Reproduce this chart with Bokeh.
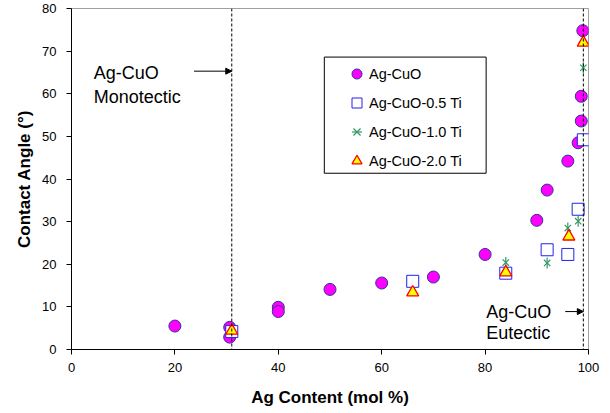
import math

from bokeh.embed import file_html
from bokeh.models import (Arrow, BoxAnnotation, Label, Legend, LegendItem,
                          NormalHead, SingleIntervalTicker, Span)
from bokeh.plotting import figure
from bokeh.resources import INLINE

# Contact angle (deg) versus Ag content (mol %)
ag_cuo_x = [20, 30.6, 30.6, 40, 40, 50, 60, 70, 80, 90, 92, 96, 98, 98.6, 98.6, 98.9]
ag_cuo_y = [5.5, 5.2, 2.9, 9.9, 8.9, 14.1, 15.6, 17.0, 22.3, 30.3, 37.4, 44.2, 48.5, 53.6, 59.4, 74.8]

ti05_x = [31, 66, 84, 92, 96, 98, 99]
ti05_y = [4.2, 16.0, 17.9, 23.4, 22.3, 32.9, 49.2]

ti10_x = [84, 92, 96, 98, 99]
ti10_y = [20.4, 20.3, 28.5, 30.1, 66.1]

ti20_x = [31, 66, 84, 96.2, 99]
ti20_y = [4.4, 13.4, 18.1, 26.5, 72.0]

series_names = ["Ag-CuO", "Ag-CuO-0.5 Ti", "Ag-CuO-1.0 Ti", "Ag-CuO-2.0 Ti"]

# Compositions of the monotectic and eutectic reference lines
monotectic_x = 31
eutectic_x = 99

FONT = "Liberation Sans"

p = figure(width=610, height=413, x_range=(0, 100), y_range=(0, 80),
           output_backend="svg", toolbar_location=None,
           min_border_left=71, min_border_right=22,
           min_border_top=8, min_border_bottom=64)

p.xgrid.visible = False
p.ygrid.visible = False
p.outline_line_color = "#a0a0a0"
p.background_fill_color = "white"
p.border_fill_color = "white"

p.xaxis.ticker = SingleIntervalTicker(interval=20)
p.yaxis.ticker = SingleIntervalTicker(interval=10)
for ax in (p.xaxis, p.yaxis):
    ax.axis_line_color = "black"
    ax.major_tick_line_color = "black"
    ax.major_tick_in = 0
    ax.major_tick_out = 5
    ax.minor_tick_line_color = None
    ax.major_label_text_font = FONT
    ax.major_label_text_font_size = "13px"
    ax.major_label_text_color = "black"
    ax.axis_label_text_font = FONT
    ax.axis_label_text_font_style = "bold"
    ax.axis_label_text_font_size = "17px"
    ax.axis_label_text_color = "black"

p.xaxis.axis_label = "Ag Content (mol %)"
p.yaxis.axis_label = "Contact Angle (°)"
p.xaxis.major_label_standoff = 8
p.xaxis.axis_label_standoff = 13
p.yaxis.major_label_standoff = 10
p.yaxis.axis_label_standoff = 5

# Reference lines with their annotations
for loc in (monotectic_x, eutectic_x):
    p.add_layout(Span(location=loc, dimension="height", line_color="black",
                      line_width=1, line_dash="3 2"))

def note(x, y, text):
    p.add_layout(Label(x=x, y=y, text=text, text_baseline="middle",
                       text_font=FONT, text_font_size="18px", text_color="black"))

note(4.3, 64.8, "Ag-CuO")
note(4.3, 59.2, "Monotectic")
note(80.2, 8.9, "Ag-CuO")
note(80.2, 3.8, "Eutectic")

def arrow(x0, x1, y):
    p.add_layout(Arrow(end=NormalHead(size=6, fill_color="black", line_color="black"),
                       x_start=x0, y_start=y, x_end=x1, y_end=y,
                       line_color="black", line_width=1))

arrow(23.7, monotectic_x, 65.3)
arrow(95.5, eutectic_x, 8.9)

# Data series
r_cuo = p.scatter(ag_cuo_x, ag_cuo_y, marker="circle", size=12,
                  fill_color="#ff00ff", line_color="#333399", line_width=1)
r_05 = p.scatter(ti05_x, ti05_y, marker="square", size=12,
                 fill_color="white", line_color="#2020f0", line_width=1)
r_10a = p.scatter(ti10_x, ti10_y, marker="x", size=9,
                  line_color="#339966", line_width=1.2)
r_10b = p.scatter(ti10_x, ti10_y, marker="dash", size=11, angle=math.pi / 2,
                  line_color="#339966", line_width=1.2)
r_20 = p.scatter(ti20_x, ti20_y, marker="triangle", size=12,
                 fill_color="#ffff00", line_color="#ff0000", line_width=1.3)

# Legend frame and entries
p.add_layout(BoxAnnotation(left=48.9, right=80.2, bottom=41.35, top=68.6,
                           fill_color="white", fill_alpha=1,
                           line_color="black", line_width=1, line_alpha=1))

legend = Legend(items=[
    LegendItem(label=series_names[0], renderers=[r_cuo]),
    LegendItem(label=series_names[1], renderers=[r_05]),
    LegendItem(label=series_names[2], renderers=[r_10a, r_10b]),
    LegendItem(label=series_names[3], renderers=[r_20]),
], location=(273, 176), padding=0, margin=0, spacing=4,
    glyph_width=25, glyph_height=25, label_standoff=-2,
    label_text_font=FONT, label_text_font_size="14.5px",
    label_text_color="black",
    border_line_alpha=0, background_fill_alpha=0)
p.add_layout(legend)

open("out.html", "w").write(file_html(p, INLINE))
